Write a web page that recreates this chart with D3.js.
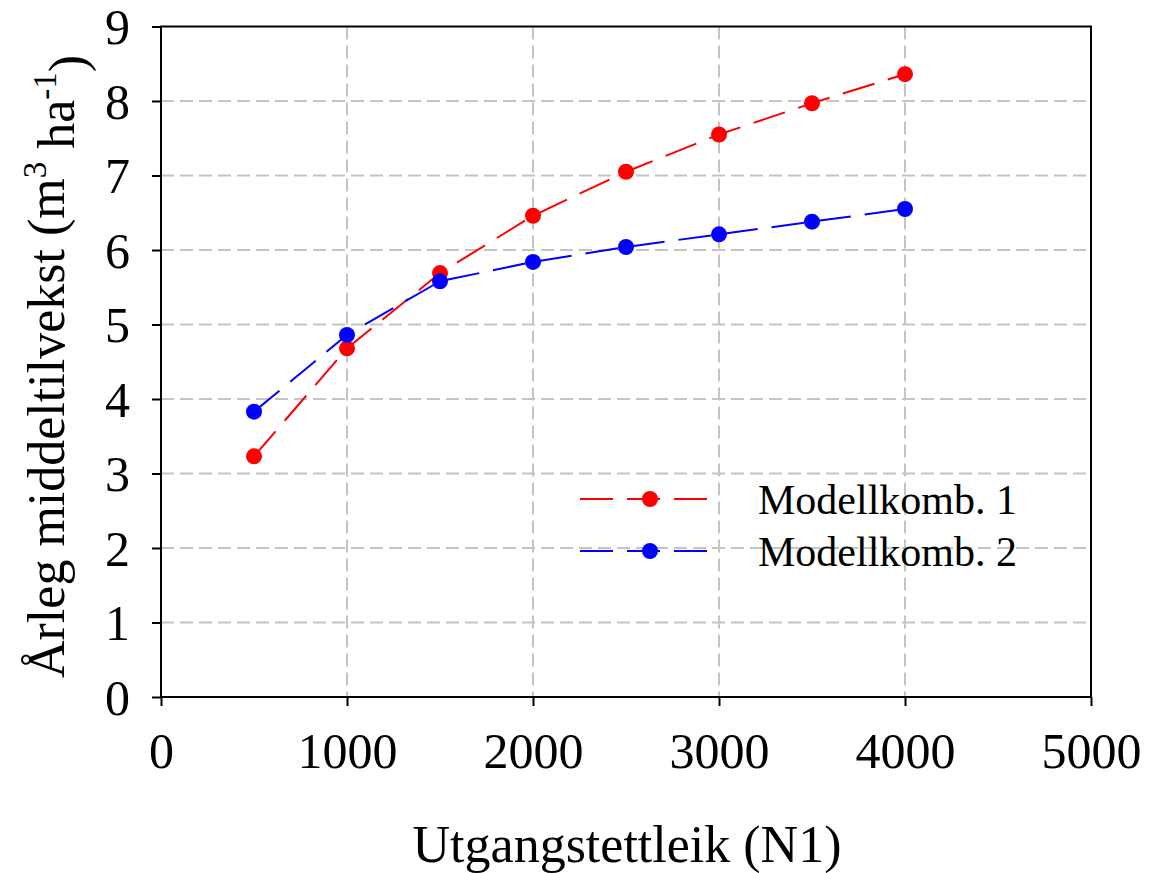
<!DOCTYPE html>
<html>
<head>
<meta charset="utf-8">
<script src="https://cdn.jsdelivr.net/npm/d3@7"></script>
<style>
  body { margin: 0; background: #fff; }
  text { font-family: "Liberation Serif", "Times New Roman", serif; fill: #000; }
</style>
</head>
<body>
<svg class="chart"></svg>
<script>
var width = 1151, height = 873;

// data
var density = [500, 1000, 1500, 2000, 2500, 3000, 3500, 4000];
var komb1 = [3.23, 4.68, 5.69, 6.46, 7.05, 7.55, 7.97, 8.36];
var komb2 = [3.83, 4.86, 5.58, 5.84, 6.04, 6.21, 6.38, 6.55];
var seriesNames = ["Modellkomb. 1", "Modellkomb. 2"];
var seriesColors = ["#ff0000", "#0000ff"];
var xTicks = [0, 1000, 2000, 3000, 4000, 5000];
var yTicks = [0, 1, 2, 3, 4, 5, 6, 7, 8, 9];

var chart = d3.select(".chart")
    .attr("width", width)
    .attr("height", height);

var x_scale = d3.scaleLinear().domain([0, 5000]).range([161, 1091]);
var y_scale = d3.scaleLinear().domain([0, 9]).range([697, 26.5]);

// grid
chart.append("g").selectAll("line")
    .data(xTicks.slice(1, -1))
    .enter().append("line")
    .attr("x1", function(d) { return x_scale(d); })
    .attr("x2", function(d) { return x_scale(d); })
    .attr("y1", y_scale(9)).attr("y2", y_scale(0))
    .attr("stroke", "#c4c4c4").attr("stroke-width", 2)
    .attr("stroke-dasharray", "13,6");

chart.append("g").selectAll("line")
    .data(yTicks.slice(1, -1))
    .enter().append("line")
    .attr("y1", function(d) { return y_scale(d); })
    .attr("y2", function(d) { return y_scale(d); })
    .attr("x1", x_scale(0)).attr("x2", x_scale(5000))
    .attr("stroke", "#c4c4c4").attr("stroke-width", 2)
    .attr("stroke-dasharray", "13,6");

// axes
var x_axis = d3.axisBottom(x_scale).tickValues(xTicks).tickSize(9).tickPadding(26).tickFormat(d3.format("d"));
var y_axis = d3.axisLeft(y_scale).tickValues(yTicks).tickSize(9).tickPadding(22);

var gx = chart.append("g")
    .attr("transform", "translate(0," + y_scale(0) + ")")
    .call(x_axis);
var gy = chart.append("g")
    .attr("transform", "translate(" + x_scale(0) + ",0)")
    .call(y_axis);

[gx, gy].forEach(function(g) {
    g.select(".domain").remove();
    g.selectAll("line").attr("stroke", "#000").attr("stroke-width", 2);
    g.selectAll("text")
        .style("font-family", "'Liberation Serif', serif")
        .style("font-size", "50px")
        .attr("fill", "#000");
});
gy.selectAll("text").attr("dy", "0.34em");

// frame
chart.append("rect")
    .attr("x", x_scale(0)).attr("y", y_scale(9))
    .attr("width", x_scale(5000) - x_scale(0))
    .attr("height", y_scale(0) - y_scale(9))
    .attr("fill", "none").attr("stroke", "#000").attr("stroke-width", 2);

// series
var line = d3.line()
    .x(function(d) { return x_scale(d[0]); })
    .y(function(d) { return y_scale(d[1]); });

[komb1, komb2].forEach(function(vals, k) {
    var pts = density.map(function(d, i) { return [d, vals[i]]; });
    chart.append("path")
        .datum(pts)
        .attr("d", line)
        .attr("fill", "none")
        .attr("stroke", seriesColors[k])
        .attr("stroke-width", 2)
        .attr("stroke-dasharray", "33,14");
    chart.append("g").selectAll("circle")
        .data(pts)
        .enter().append("circle")
        .attr("cx", function(d) { return x_scale(d[0]); })
        .attr("cy", function(d) { return y_scale(d[1]); })
        .attr("r", 8)
        .attr("fill", seriesColors[k]);
});

// legend
var legend = chart.append("g").selectAll("g")
    .data(seriesNames)
    .enter().append("g")
    .attr("transform", function(d, i) { return "translate(580," + (499 + i * 52) + ")"; });

legend.append("line")
    .attr("x1", 0).attr("x2", 130)
    .attr("stroke", function(d, i) { return seriesColors[i]; })
    .attr("stroke-width", 2)
    .attr("stroke-dasharray", "33,14");
legend.append("circle")
    .attr("cx", 70).attr("r", 8)
    .attr("fill", function(d, i) { return seriesColors[i]; });
legend.append("text")
    .attr("x", 178).attr("y", 15)
    .style("font-size", "42px")
    .text(function(d) { return d; });

// axis titles
chart.append("text")
    .attr("x", 627).attr("y", 862)
    .attr("text-anchor", "middle")
    .style("font-size", "52px")
    .text("Utgangstettleik (N1)");

var ylab = chart.append("text")
    .attr("transform", "translate(64,678) rotate(-90)")
    .attr("text-anchor", "start")
    .style("font-size", "52px");
ylab.append("tspan").text("Årleg middeltilvekst (m");
ylab.append("tspan").attr("dy", "-0.55em").style("font-size", "33px").text("3");
ylab.append("tspan").attr("dy", "0.55em").text(" ha");
ylab.append("tspan").attr("dy", "-0.55em").style("font-size", "33px").text("-1");
ylab.append("tspan").attr("dy", "0.55em").text(")");
</script>
</body>
</html>
